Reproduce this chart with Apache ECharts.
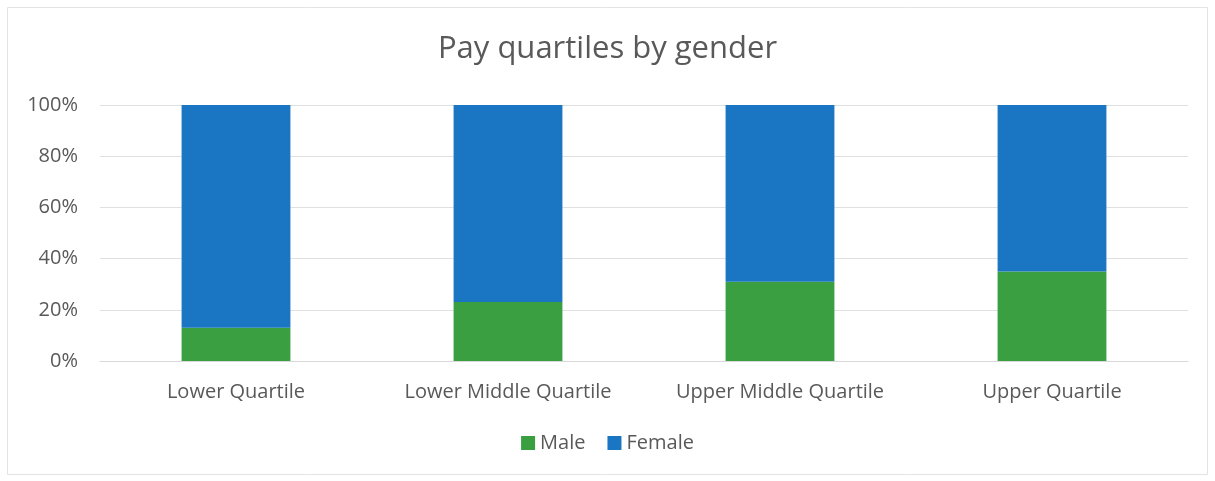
<!DOCTYPE html>
<html><head><meta charset="utf-8">
<script src="https://cdn.jsdelivr.net/npm/echarts@6/dist/echarts.min.js"></script>
<style>html,body{margin:0;padding:0;background:#fff}#c{width:1215px;height:481px}</style>
</head><body><div id="c"></div>
<script>
const categories = ["Lower Quartile", "Lower Middle Quartile", "Upper Middle Quartile", "Upper Quartile"];
const maleValues = [13, 23, 31, 35];
const femaleValues = [87, 77, 69, 65];
const yTicks = [0, 20, 40, 60, 80, 100];

const chart = echarts.init(document.getElementById('c'));
const font = '"Open Sans", "Noto Sans", sans-serif';
chart.setOption({
  animation: false,
  graphic: [{type:'rect', shape:{x:7.5,y:7.5,width:1200,height:467}, style:{fill:'none', stroke:'#e3e3e3', lineWidth:1}}],
  title: {text: 'Pay quartiles by gender', left: 'center', top: 29,
    textStyle: {fontFamily: font, fontSize: 31, fontWeight: 'normal', color: '#595959'}},
  legend: {data: ['Male', 'Female'], bottom: 23, left: 'center', itemWidth: 14, itemHeight: 14, itemGap: 22,
    icon: 'rect', textStyle: {fontFamily: font, fontSize: 20, color: '#595959'}},
  grid: {left: 100, right: 27, top: 105, bottom: 120, containLabel: false},
  xAxis: {type: 'category', data: categories,
    axisLine: {lineStyle: {color: '#d9d9d9'}}, axisTick: {show: false},
    axisLabel: {fontFamily: font, fontSize: 20, color: '#595959', margin: 21}},
  yAxis: {type: 'value', min: 0, max: 100, interval: 20,
    axisLine: {show: false}, axisTick: {show: false},
    splitLine: {lineStyle: {color: '#e0e0e0'}},
    axisLabel: {fontFamily: font, fontSize: 20, color: '#595959', margin: 22,
      formatter: v => yTicks.includes(v) ? v + '%' : ''}},
  series: [
    {name: 'Male', type: 'bar', stack: 'g', data: maleValues, barWidth: '40%', itemStyle: {color: '#3a9f40'}},
    {name: 'Female', type: 'bar', stack: 'g', data: femaleValues, barWidth: '40%', itemStyle: {color: '#1a76c2'}}
  ]
});
</script></body></html>
